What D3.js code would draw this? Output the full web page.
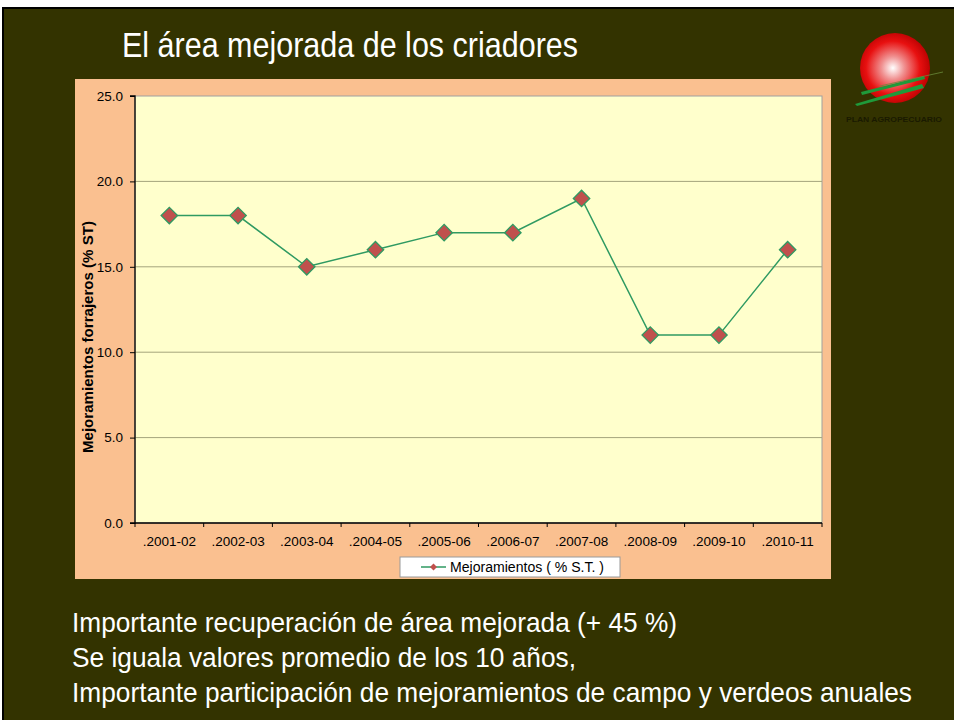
<!DOCTYPE html>
<html>
<head>
<meta charset="utf-8">
<script src="https://cdn.jsdelivr.net/npm/d3@7"></script>
<style>
  body { margin: 0; background: #fff; }
  svg { display: block; }
</style>
</head>
<body>
<svg id="chart"></svg>
<script>
var seasons = [".2001-02", ".2002-03", ".2003-04", ".2004-05", ".2005-06",
               ".2006-07", ".2007-08", ".2008-09", ".2009-10", ".2010-11"];
var mejoramientos = [18, 18, 15, 16, 17, 17, 19, 11, 11, 16];
var yTicks = [0, 5, 10, 15, 20, 25];
var seriesName = "Mejoramientos ( % S.T. )";
var yTitle = "Mejoramientos forrajeros (% ST)";
var slideTitle = "El área mejorada de los criadores";
var bullets = ["Importante recuperación de área mejorada (+ 45 %)",
               "Se iguala valores promedio de los 10 años,",
               "Importante participación de mejoramientos de campo y verdeos anuales"];

var width = 954, height = 720;
var plot = ({left: 135, right: 822, top: 96, bottom: 523});
var lineColor = "#2f9a62", markFill = "#c0504d";
var font = "Liberation Sans, Arial, sans-serif";
var narrow = "Liberation Sans Narrow, Arial Narrow, Liberation Sans, sans-serif";

var svg = d3.select("#chart").attr("width", width).attr("height", height);

// slide background
svg.append("rect").attr("x", 2).attr("y", 7).attr("width", width - 2).attr("height", height - 7)
  .attr("fill", "#000");
svg.append("rect").attr("x", 4).attr("y", 9).attr("width", width - 4).attr("height", height - 9)
  .attr("fill", "#333300");

svg.append("text").attr("x", 122).attr("y", 57)
  .attr("fill", "#fff").attr("font-family", narrow).attr("font-size", 35)
  .attr("textLength", 456).attr("lengthAdjust", "spacingAndGlyphs")
  .text(slideTitle);

// logo
var defs = svg.append("defs");
var grad = defs.append("radialGradient").attr("id", "ball")
  .attr("cx", "47%").attr("cy", "50%").attr("r", "55%");
grad.append("stop").attr("offset", "0%").attr("stop-color", "#ffffff");
grad.append("stop").attr("offset", "30%").attr("stop-color", "#f09090");
grad.append("stop").attr("offset", "70%").attr("stop-color", "#e81010");
grad.append("stop").attr("offset", "100%").attr("stop-color", "#b80000");
var logo = svg.append("g");
logo.append("ellipse").attr("cx", 895).attr("cy", 68).attr("rx", 35).attr("ry", 35)
  .attr("fill", "url(#ball)");
logo.append("path").attr("d", "M861,92 L924,76 L925,79 L862,95 Z").attr("fill", "#1f9a3a");
logo.append("path").attr("d", "M855,104 L922,84 L924,88 L857,106 Z").attr("fill", "#1f9a3a");
logo.append("line").attr("x1", 880).attr("y1", 86).attr("x2", 943).attr("y2", 72)
  .attr("stroke", "#6a8a3a").attr("stroke-width", 0.8);
logo.append("text").attr("x", 846).attr("y", 122)
  .attr("font-family", font).attr("font-size", 7).attr("font-weight", "bold")
  .attr("textLength", 96).attr("lengthAdjust", "spacingAndGlyphs")
  .attr("fill", "#1a1a00").text("PLAN AGROPECUARIO");

// chart area
svg.append("rect").attr("x", 75).attr("y", 79).attr("width", 756).attr("height", 500)
  .attr("fill", "#fac090");
svg.append("rect").attr("x", plot.left).attr("y", plot.top)
  .attr("width", plot.right - plot.left).attr("height", plot.bottom - plot.top)
  .attr("fill", "#ffffcc").attr("stroke", "#a0a0a0");

var x = d3.scaleBand().domain(seasons).range([plot.left, plot.right]);
var y = d3.scaleLinear().domain([0, 25]).range([plot.bottom, plot.top]);

// grid
svg.append("g").selectAll("line").data(yTicks.slice(1, -1)).join("line")
  .attr("x1", plot.left).attr("x2", plot.right)
  .attr("y1", d => y(d)).attr("y2", d => y(d))
  .attr("stroke", "#a4a47c").attr("stroke-width", 1);

// axes
var yAxis = svg.append("g").attr("transform", `translate(${plot.left},0)`)
  .call(d3.axisLeft(y).tickValues(yTicks).tickFormat(d3.format(".1f")).tickSize(5).tickPadding(7));
var xAxis = svg.append("g").attr("transform", `translate(0,${plot.bottom})`)
  .call(d3.axisBottom(x).tickSize(0).tickPadding(13));
xAxis.selectAll(".tick").append("line")
  .attr("x1", -x.bandwidth() / 2).attr("x2", -x.bandwidth() / 2).attr("y2", 4).attr("stroke", "#000");
xAxis.append("line").attr("x1", plot.right).attr("x2", plot.right).attr("y2", 4).attr("stroke", "#000");

[yAxis, xAxis].forEach(g => {
  g.select(".domain").attr("stroke", "#000").attr("stroke-width", 1.3);
  g.selectAll(".tick line").attr("stroke", "#000");
  g.selectAll(".tick text").attr("font-family", font).attr("font-size", 13.5).attr("fill", "#000");
});
yAxis.select(".domain").attr("d", `M-5,${plot.top}H0V${plot.bottom}H-5`);
xAxis.select(".domain").attr("d", `M${plot.left},0H${plot.right}`);

svg.append("text")
  .attr("transform", `translate(93,337) rotate(-90)`)
  .attr("text-anchor", "middle").attr("font-family", font).attr("font-size", 14)
  .attr("textLength", 232).attr("lengthAdjust", "spacingAndGlyphs")
  .attr("font-weight", "bold").text(yTitle);

// series
var pts = seasons.map((s, i) => [x(s) + x.bandwidth() / 2, y(mejoramientos[i])]);
svg.append("path").attr("d", d3.line()(pts)).attr("fill", "none")
  .attr("stroke", lineColor).attr("stroke-width", 1.5);

var diamond = d3.symbol().type(d3.symbolSquare).size(135);
svg.append("g").selectAll("path").data(pts).join("path")
  .attr("transform", d => `translate(${d[0]},${d[1]}) rotate(45)`)
  .attr("d", diamond).attr("fill", markFill).attr("stroke", lineColor).attr("stroke-width", 1.3);

// legend
var lg = svg.append("g");
lg.append("rect").attr("x", 400).attr("y", 557).attr("width", 220).attr("height", 20)
  .attr("fill", "#fff").attr("stroke", "#999");
lg.append("line").attr("x1", 421).attr("x2", 446).attr("y1", 567).attr("y2", 567)
  .attr("stroke", lineColor).attr("stroke-width", 1.5);
lg.append("path").attr("transform", "translate(433.5,567) rotate(45)")
  .attr("d", d3.symbol().type(d3.symbolSquare).size(24)).attr("fill", markFill);
lg.append("text").attr("x", 450).attr("y", 572).attr("font-family", font)
  .attr("font-size", 14).attr("textLength", 154).attr("lengthAdjust", "spacingAndGlyphs")
  .text(seriesName);

// bullet text
svg.append("g").selectAll("text").data(bullets).join("text")
  .attr("x", 72).attr("y", (d, i) => 632 + i * 35)
  .attr("fill", "#fff").attr("font-family", narrow).attr("font-size", 28)
  .attr("textLength", (d, i) => [605, 504, 840][i]).attr("lengthAdjust", "spacingAndGlyphs")
  .text(d => d);
</script>
</body>
</html>
